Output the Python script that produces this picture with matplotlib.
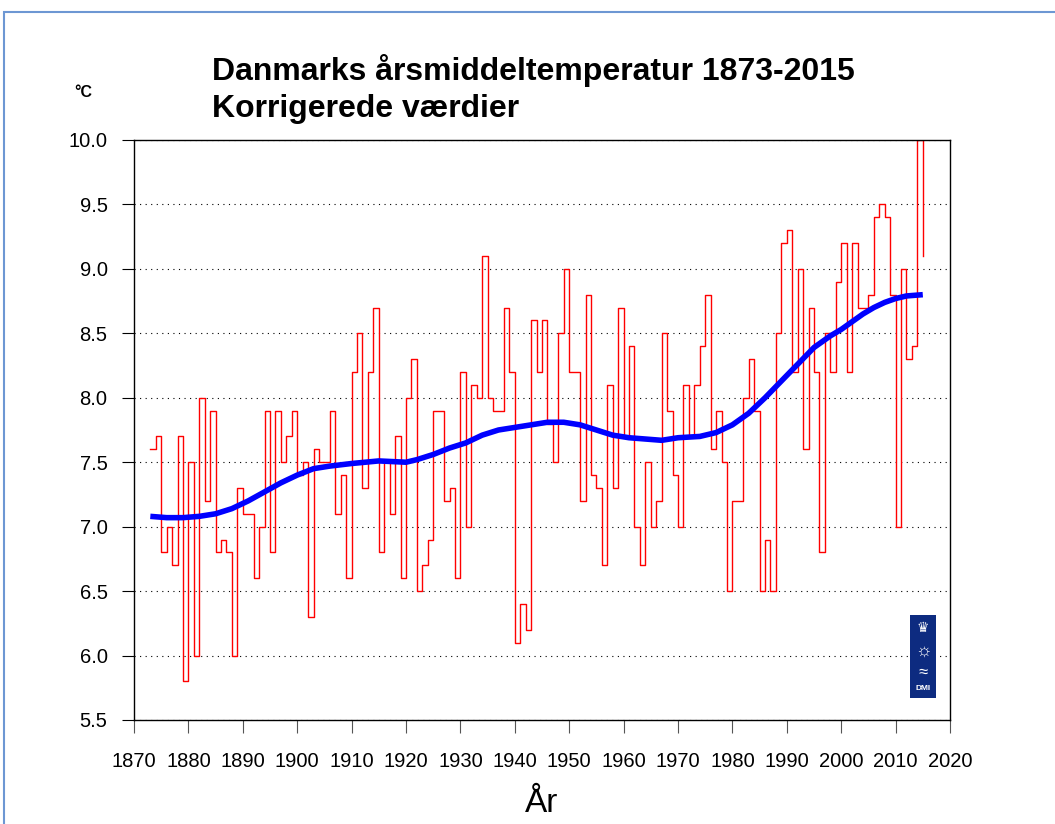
import matplotlib
matplotlib.use("Agg")
import matplotlib.pyplot as plt
from matplotlib.patches import Rectangle

plt.rcParams['font.family'] = ['Liberation Sans', 'DejaVu Sans']

# annual mean temperature, Denmark, corrected values
years = list(range(1873, 2016))
temps = [7.6, 7.7, 6.8, 7.0, 6.7, 7.7, 5.8,                      # 1873-1879
         7.5, 6.0, 8.0, 7.2, 7.9, 6.8, 6.9, 6.8, 6.0, 7.3,        # 1880s
         7.1, 7.1, 6.6, 7.0, 7.9, 6.8, 7.9, 7.5, 7.7, 7.9,        # 1890s
         7.4, 7.5, 6.3, 7.6, 7.5, 7.5, 7.9, 7.1, 7.4, 6.6,        # 1900s
         8.2, 8.5, 7.3, 8.2, 8.7, 6.8, 7.5, 7.1, 7.7, 6.6,        # 1910s
         8.0, 8.3, 6.5, 6.7, 6.9, 7.9, 7.9, 7.2, 7.3, 6.6,        # 1920s
         8.2, 7.0, 8.1, 8.0, 9.1, 8.0, 7.9, 7.9, 8.7, 8.2,        # 1930s
         6.1, 6.4, 6.2, 8.6, 8.2, 8.6, 7.8, 7.5, 8.5, 9.0,        # 1940s
         8.2, 8.2, 7.2, 8.8, 7.4, 7.3, 6.7, 8.1, 7.3, 8.7,        # 1950s
         7.7, 8.4, 7.0, 6.7, 7.5, 7.0, 7.2, 8.5, 7.9, 7.4,        # 1960s
         7.0, 8.1, 7.7, 8.1, 8.4, 8.8, 7.6, 7.9, 7.5, 6.5,        # 1970s
         7.2, 7.2, 8.0, 8.3, 7.9, 6.5, 6.9, 6.5, 8.5, 9.2,        # 1980s
         9.3, 8.2, 9.0, 7.6, 8.7, 8.2, 6.8, 8.5, 8.2, 8.9,        # 1990s
         9.2, 8.2, 9.2, 8.7, 8.7, 8.8, 9.4, 9.5, 9.4, 8.8,        # 2000s
         7.0, 9.0, 8.3, 8.4, 10.0, 9.1]                           # 2010-2015

# smoothed curve
trend_years = [1873, 1876, 1879, 1882, 1885, 1888, 1891, 1894, 1897, 1900,
               1903, 1906, 1910, 1915, 1920, 1922, 1925, 1928, 1931, 1934,
               1937, 1940, 1943, 1946, 1949, 1952, 1955, 1958, 1961, 1964,
               1967, 1970, 1974, 1977, 1980, 1983, 1986, 1989, 1992, 1995,
               1998, 2000, 2002, 2004, 2006, 2008, 2010, 2012, 2015]
trend = [7.08, 7.07, 7.07, 7.08, 7.10, 7.14, 7.20, 7.27, 7.34, 7.40,
         7.45, 7.47, 7.49, 7.51, 7.50, 7.52, 7.56, 7.61, 7.65, 7.71,
         7.75, 7.77, 7.79, 7.81, 7.81, 7.79, 7.75, 7.71, 7.69, 7.68,
         7.67, 7.69, 7.70, 7.73, 7.79, 7.88, 8.00, 8.13, 8.26, 8.39,
         8.48, 8.53, 8.59, 8.65, 8.70, 8.74, 8.77, 8.79, 8.80]

xticks = list(range(1870, 2021, 10))
yticks = [5.5, 6.0, 6.5, 7.0, 7.5, 8.0, 8.5, 9.0, 9.5, 10.0]

fig = plt.figure(figsize=(10.55, 8.24), dpi=100)
ax = fig.add_axes([134/1055, 104/824, 816/1055, 580/824])

for y in yticks:
    ax.axhline(y, color='black', lw=0.8, linestyle=(0, (1, 4)), zorder=0)

ax.step(years, temps, where='post', color='red', lw=1)
ax.plot(trend_years, trend, color='#0000ff', lw=4, solid_capstyle='butt')

ax.set_xlim(1870, 2020)
ax.set_ylim(5.5, 10.0)
ax.set_xticks(xticks)
ax.set_yticks(yticks)
ax.set_yticklabels(['%.1f' % v for v in yticks])
ax.tick_params(direction='out', length=9, width=0.8, labelsize=14.5)
ax.tick_params(axis='y', pad=10)
ax.tick_params(axis='x', pad=14, colors='#555555', labelcolor='black')
for s in ax.spines.values():
    s.set_linewidth(1)

ax.set_xlabel('År', fontsize=24, labelpad=12)

# titles
fig.text(212/1055, 1 - 80/824, 'Danmarks årsmiddeltemperatur 1873-2015',
         fontsize=23, fontweight='bold', va='baseline', ha='left')
fig.text(212/1055, 1 - 117/824, 'Korrigerede værdier',
         fontsize=23, fontweight='bold', va='baseline', ha='left')
fig.text(74/1055, 1 - 97/824, '°C', fontsize=11.5, fontweight='bold',
         va='baseline', ha='left')

# DMI logo
ax.add_patch(Rectangle((0.951, 0.038), 0.032, 0.143, transform=ax.transAxes,
                       facecolor='#0d2b80', edgecolor='none', zorder=5))
lx = 0.967
ax.text(lx, 0.158, '♛', transform=ax.transAxes, color='white', fontsize=10,
        ha='center', va='center', zorder=6)
ax.text(lx, 0.118, '☼', transform=ax.transAxes, color='white', fontsize=13,
        ha='center', va='center', zorder=6)
ax.text(lx, 0.082, '≈', transform=ax.transAxes, color='white', fontsize=12,
        ha='center', va='center', zorder=6)
ax.text(lx, 0.055, 'DMI', transform=ax.transAxes, color='white', fontsize=6,
        fontweight='bold', ha='center', va='center', zorder=6)

# slide frame
fig.patches.append(Rectangle((4/1055, -0.1), 1.2, 1.1 - 12.5/824,
                             transform=fig.transFigure, fill=False,
                             edgecolor='#6d97d3', lw=1.5))

fig.savefig('out.png', dpi=100)
